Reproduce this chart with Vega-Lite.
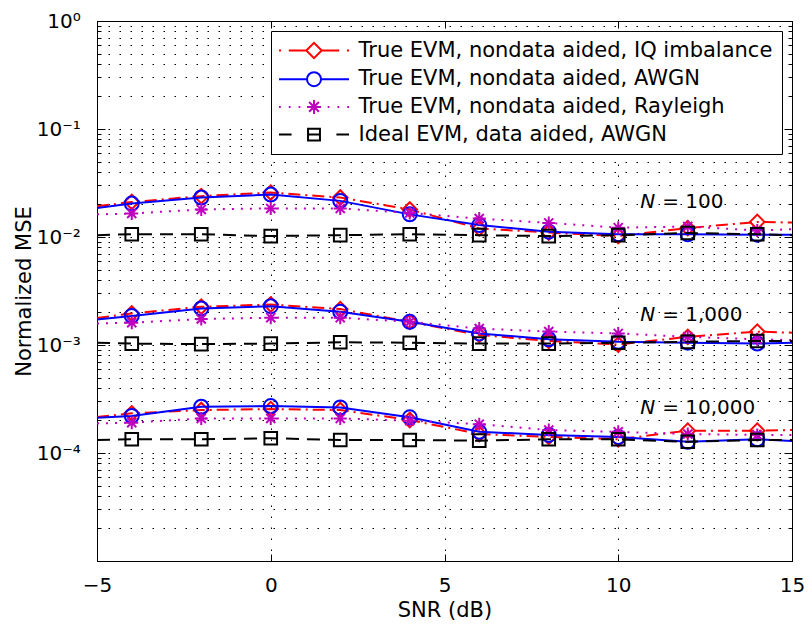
{
  "$schema": "https://vega.github.io/schema/vega-lite/v6.json",
  "width": 695,
  "height": 540,
  "autosize": {"type": "none"},
  "padding": {"left": 97, "top": 21, "right": 17, "bottom": 67},
  "background": "white",
  "config": {
    "font": "DejaVu Sans",
    "view": {"stroke": "#000", "strokeWidth": 1},
    "axis": {
      "domain": false, "tickColor": "#000", "tickWidth": 1,
      "labelColor": "#000", "titleColor": "#000",
      "labelFont": "DejaVu Sans", "titleFont": "DejaVu Sans",
      "labelFontSize": 20, "titleFontSize": 21, "titleFontWeight": "normal",
      "gridColor": "#000", "gridDash": [1.5, 9.5], "gridWidth": 1, "gridOpacity": 1,
      "labelFlush": false
    },
    "legend": {
      "orient": "top-right", "offset": 10, "padding": 9,
      "strokeColor": "#000", "strokeWidth": 1, "fillColor": "#fff", "cornerRadius": 0,
      "labelFont": "DejaVu Sans", "labelFontSize": 21, "labelColor": "#000", "labelLimit": 1000,
      "symbolSize": 196, "symbolStrokeWidth": 2, "rowPadding": 4.7,
      "symbolOffset": 23.5, "labelOffset": 34
    }
  },
  "datasets": {
    "evm": [
      {"s": "IQ", "N": 100, "x": -5, "y": 0.0193},
      {"s": "IQ", "N": 100, "x": -4, "y": 0.0211},
      {"s": "IQ", "N": 100, "x": -2, "y": 0.0239},
      {"s": "IQ", "N": 100, "x": 0, "y": 0.0258},
      {"s": "IQ", "N": 100, "x": 2, "y": 0.0232},
      {"s": "IQ", "N": 100, "x": 4, "y": 0.0180},
      {"s": "IQ", "N": 100, "x": 6, "y": 0.0120},
      {"s": "IQ", "N": 100, "x": 8, "y": 0.0110},
      {"s": "IQ", "N": 100, "x": 10, "y": 0.0102},
      {"s": "IQ", "N": 100, "x": 12, "y": 0.0121},
      {"s": "IQ", "N": 100, "x": 14, "y": 0.0138},
      {"s": "IQ", "N": 100, "x": 15, "y": 0.0136},
      {"s": "IQ", "N": 1000, "x": -5, "y": 0.00178},
      {"s": "IQ", "N": 1000, "x": -4, "y": 0.00196},
      {"s": "IQ", "N": 1000, "x": -2, "y": 0.00226},
      {"s": "IQ", "N": 1000, "x": 0, "y": 0.00237},
      {"s": "IQ", "N": 1000, "x": 2, "y": 0.00215},
      {"s": "IQ", "N": 1000, "x": 4, "y": 0.00164},
      {"s": "IQ", "N": 1000, "x": 6, "y": 0.00124},
      {"s": "IQ", "N": 1000, "x": 8, "y": 0.00109},
      {"s": "IQ", "N": 1000, "x": 10, "y": 0.00101},
      {"s": "IQ", "N": 1000, "x": 12, "y": 0.00119},
      {"s": "IQ", "N": 1000, "x": 14, "y": 0.00133},
      {"s": "IQ", "N": 1000, "x": 15, "y": 0.00130},
      {"s": "IQ", "N": 10000, "x": -5, "y": 0.000215},
      {"s": "IQ", "N": 10000, "x": -4, "y": 0.000233},
      {"s": "IQ", "N": 10000, "x": -2, "y": 0.000250},
      {"s": "IQ", "N": 10000, "x": 0, "y": 0.000255},
      {"s": "IQ", "N": 10000, "x": 2, "y": 0.000250},
      {"s": "IQ", "N": 10000, "x": 4, "y": 0.000202},
      {"s": "IQ", "N": 10000, "x": 6, "y": 0.000150},
      {"s": "IQ", "N": 10000, "x": 8, "y": 0.000141},
      {"s": "IQ", "N": 10000, "x": 10, "y": 0.000134},
      {"s": "IQ", "N": 10000, "x": 12, "y": 0.000161},
      {"s": "IQ", "N": 10000, "x": 14, "y": 0.000161},
      {"s": "IQ", "N": 10000, "x": 15, "y": 0.000163},
      {"s": "AWGN", "N": 100, "x": -5, "y": 0.0186},
      {"s": "AWGN", "N": 100, "x": -4, "y": 0.0204},
      {"s": "AWGN", "N": 100, "x": -2, "y": 0.0232},
      {"s": "AWGN", "N": 100, "x": 0, "y": 0.0247},
      {"s": "AWGN", "N": 100, "x": 2, "y": 0.0216},
      {"s": "AWGN", "N": 100, "x": 4, "y": 0.0162},
      {"s": "AWGN", "N": 100, "x": 6, "y": 0.0129},
      {"s": "AWGN", "N": 100, "x": 8, "y": 0.0112},
      {"s": "AWGN", "N": 100, "x": 10, "y": 0.0106},
      {"s": "AWGN", "N": 100, "x": 12, "y": 0.0106},
      {"s": "AWGN", "N": 100, "x": 14, "y": 0.0105},
      {"s": "AWGN", "N": 100, "x": 15, "y": 0.0105},
      {"s": "AWGN", "N": 1000, "x": -5, "y": 0.00172},
      {"s": "AWGN", "N": 1000, "x": -4, "y": 0.00186},
      {"s": "AWGN", "N": 1000, "x": -2, "y": 0.00218},
      {"s": "AWGN", "N": 1000, "x": 0, "y": 0.00229},
      {"s": "AWGN", "N": 1000, "x": 2, "y": 0.00203},
      {"s": "AWGN", "N": 1000, "x": 4, "y": 0.00164},
      {"s": "AWGN", "N": 1000, "x": 6, "y": 0.00128},
      {"s": "AWGN", "N": 1000, "x": 8, "y": 0.00113},
      {"s": "AWGN", "N": 1000, "x": 10, "y": 0.00107},
      {"s": "AWGN", "N": 1000, "x": 12, "y": 0.00105},
      {"s": "AWGN", "N": 1000, "x": 14, "y": 0.00103},
      {"s": "AWGN", "N": 1000, "x": 15, "y": 0.00105},
      {"s": "AWGN", "N": 10000, "x": -5, "y": 0.000212},
      {"s": "AWGN", "N": 10000, "x": -4, "y": 0.000220},
      {"s": "AWGN", "N": 10000, "x": -2, "y": 0.000268},
      {"s": "AWGN", "N": 10000, "x": 0, "y": 0.000272},
      {"s": "AWGN", "N": 10000, "x": 2, "y": 0.000264},
      {"s": "AWGN", "N": 10000, "x": 4, "y": 0.000214},
      {"s": "AWGN", "N": 10000, "x": 6, "y": 0.000157},
      {"s": "AWGN", "N": 10000, "x": 8, "y": 0.000147},
      {"s": "AWGN", "N": 10000, "x": 10, "y": 0.000141},
      {"s": "AWGN", "N": 10000, "x": 12, "y": 0.000127},
      {"s": "AWGN", "N": 10000, "x": 14, "y": 0.000134},
      {"s": "AWGN", "N": 10000, "x": 15, "y": 0.000129},
      {"s": "Ray", "N": 100, "x": -5, "y": 0.0162},
      {"s": "Ray", "N": 100, "x": -4, "y": 0.0165},
      {"s": "Ray", "N": 100, "x": -2, "y": 0.0180},
      {"s": "Ray", "N": 100, "x": 0, "y": 0.0184},
      {"s": "Ray", "N": 100, "x": 2, "y": 0.0184},
      {"s": "Ray", "N": 100, "x": 4, "y": 0.0167},
      {"s": "Ray", "N": 100, "x": 6, "y": 0.0148},
      {"s": "Ray", "N": 100, "x": 8, "y": 0.0135},
      {"s": "Ray", "N": 100, "x": 10, "y": 0.0122},
      {"s": "Ray", "N": 100, "x": 12, "y": 0.0125},
      {"s": "Ray", "N": 100, "x": 14, "y": 0.0115},
      {"s": "Ray", "N": 100, "x": 15, "y": 0.0118},
      {"s": "Ray", "N": 1000, "x": -5, "y": 0.00158},
      {"s": "Ray", "N": 1000, "x": -4, "y": 0.00161},
      {"s": "Ray", "N": 1000, "x": -2, "y": 0.00174},
      {"s": "Ray", "N": 1000, "x": 0, "y": 0.00179},
      {"s": "Ray", "N": 1000, "x": 2, "y": 0.00179},
      {"s": "Ray", "N": 1000, "x": 4, "y": 0.00164},
      {"s": "Ray", "N": 1000, "x": 6, "y": 0.00142},
      {"s": "Ray", "N": 1000, "x": 8, "y": 0.00133},
      {"s": "Ray", "N": 1000, "x": 10, "y": 0.00128},
      {"s": "Ray", "N": 1000, "x": 12, "y": 0.00119},
      {"s": "Ray", "N": 1000, "x": 14, "y": 0.00113},
      {"s": "Ray", "N": 1000, "x": 15, "y": 0.00111},
      {"s": "Ray", "N": 10000, "x": -5, "y": 0.000188},
      {"s": "Ray", "N": 10000, "x": -4, "y": 0.000191},
      {"s": "Ray", "N": 10000, "x": -2, "y": 0.000209},
      {"s": "Ray", "N": 10000, "x": 0, "y": 0.000209},
      {"s": "Ray", "N": 10000, "x": 2, "y": 0.000209},
      {"s": "Ray", "N": 10000, "x": 4, "y": 0.000199},
      {"s": "Ray", "N": 10000, "x": 6, "y": 0.000185},
      {"s": "Ray", "N": 10000, "x": 8, "y": 0.000163},
      {"s": "Ray", "N": 10000, "x": 10, "y": 0.000157},
      {"s": "Ray", "N": 10000, "x": 12, "y": 0.000150},
      {"s": "Ray", "N": 10000, "x": 14, "y": 0.000147},
      {"s": "Ray", "N": 10000, "x": 15, "y": 0.000147},
      {"s": "Ideal", "N": 100, "x": -5, "y": 0.0104},
      {"s": "Ideal", "N": 100, "x": -4, "y": 0.0106},
      {"s": "Ideal", "N": 100, "x": -2, "y": 0.0106},
      {"s": "Ideal", "N": 100, "x": 0, "y": 0.0102},
      {"s": "Ideal", "N": 100, "x": 2, "y": 0.0104},
      {"s": "Ideal", "N": 100, "x": 4, "y": 0.0106},
      {"s": "Ideal", "N": 100, "x": 6, "y": 0.0104},
      {"s": "Ideal", "N": 100, "x": 8, "y": 0.0102},
      {"s": "Ideal", "N": 100, "x": 10, "y": 0.0104},
      {"s": "Ideal", "N": 100, "x": 12, "y": 0.0109},
      {"s": "Ideal", "N": 100, "x": 14, "y": 0.0106},
      {"s": "Ideal", "N": 100, "x": 15, "y": 0.0104},
      {"s": "Ideal", "N": 1000, "x": -5, "y": 0.00105},
      {"s": "Ideal", "N": 1000, "x": -4, "y": 0.00103},
      {"s": "Ideal", "N": 1000, "x": -2, "y": 0.00102},
      {"s": "Ideal", "N": 1000, "x": 0, "y": 0.00103},
      {"s": "Ideal", "N": 1000, "x": 2, "y": 0.00106},
      {"s": "Ideal", "N": 1000, "x": 4, "y": 0.00105},
      {"s": "Ideal", "N": 1000, "x": 6, "y": 0.00103},
      {"s": "Ideal", "N": 1000, "x": 8, "y": 0.00103},
      {"s": "Ideal", "N": 1000, "x": 10, "y": 0.00105},
      {"s": "Ideal", "N": 1000, "x": 12, "y": 0.00107},
      {"s": "Ideal", "N": 1000, "x": 14, "y": 0.00109},
      {"s": "Ideal", "N": 1000, "x": 15, "y": 0.00109},
      {"s": "Ideal", "N": 10000, "x": -5, "y": 0.000132},
      {"s": "Ideal", "N": 10000, "x": -4, "y": 0.000134},
      {"s": "Ideal", "N": 10000, "x": -2, "y": 0.000134},
      {"s": "Ideal", "N": 10000, "x": 0, "y": 0.000137},
      {"s": "Ideal", "N": 10000, "x": 2, "y": 0.000132},
      {"s": "Ideal", "N": 10000, "x": 4, "y": 0.000132},
      {"s": "Ideal", "N": 10000, "x": 6, "y": 0.000130},
      {"s": "Ideal", "N": 10000, "x": 8, "y": 0.000134},
      {"s": "Ideal", "N": 10000, "x": 10, "y": 0.000134},
      {"s": "Ideal", "N": 10000, "x": 12, "y": 0.000127},
      {"s": "Ideal", "N": 10000, "x": 14, "y": 0.000132},
      {"s": "Ideal", "N": 10000, "x": 15, "y": 0.000132}
    ],
    "lab": [
      {"x": 10.63, "y": 0.0211, "t": "= 100"},
      {"x": 10.63, "y": 0.00189, "t": "= 1,000"},
      {"x": 10.63, "y": 0.000261, "t": "= 10,000"}
    ]
  },
  "resolve": {"axis": {"x": "independent", "y": "independent"}},
  "layer": [
    {
      "data": {"name": "evm"},
      "transform": [{"filter": "datum.s == 'IQ'"}],
      "mark": {"type": "line", "color": "#FF0000", "strokeWidth": 2, "strokeDash": [12, 5, 2, 5]},
      "encoding": {
        "x": {"field": "x", "type": "quantitative", "scale": {"domain": [-5, 15], "nice": false, "zero": false},
          "axis": {"orient": "bottom", "values": [-5, 0, 5, 10, 15], "title": "SNR (dB)", "tickSize": -7, "labelPadding": 21.5, "grid": true, "titlePadding": 4}},
        "y": {"field": "y", "type": "quantitative", "scale": {"type": "log", "domain": [0.00001, 1], "nice": false},
          "axis": {"orient": "left", "title": "Normalized MSE", "grid": true, "titlePadding": 2, "labelPadding": 24.7,
            "values": [0.00001, 0.00002, 0.00003, 0.00004, 0.00005, 0.00006, 0.00007, 0.00008, 0.00009, 0.0001, 0.0002, 0.0003, 0.0004, 0.0005, 0.0006, 0.0007, 0.0008, 0.0009, 0.001, 0.002, 0.003, 0.004, 0.005, 0.006, 0.007, 0.008, 0.009, 0.01, 0.02, 0.03, 0.04, 0.05, 0.06, 0.07, 0.08, 0.09, 0.1, 0.2, 0.3, 0.4, 0.5, 0.6, 0.7, 0.8, 0.9, 1],
            "tickSize": {"condition": {"test": "indexof([1, 0.1, 0.01, 0.001, 0.0001, 0.00001], datum.value) >= 0", "value": -8}, "value": -4},
            "labelExpr": "datum.value == 1 ? '10⁰' : datum.value == 0.1 ? '10⁻¹' : datum.value == 0.01 ? '10⁻²' : datum.value == 0.001 ? '10⁻³' : datum.value == 0.0001 ? '10⁻⁴' : ''"}},
        "detail": {"field": "N", "type": "nominal"}
      }
    },
    {
      "data": {"name": "evm"},
      "transform": [{"filter": "datum.s == 'IQ' && datum.x >= -4 && datum.x <= 14"}],
      "mark": {"type": "point", "shape": "diamond", "size": 210, "color": "#FF0000", "strokeWidth": 2, "filled": false, "opacity": 1},
      "encoding": {
        "x": {"field": "x", "type": "quantitative", "axis": null},
        "y": {"field": "y", "type": "quantitative", "axis": null}
      }
    },
    {
      "data": {"name": "evm"},
      "transform": [{"filter": "datum.s == 'AWGN'"}],
      "mark": {"type": "line", "color": "#0000FF", "strokeWidth": 2},
      "encoding": {
        "x": {"field": "x", "type": "quantitative", "axis": null},
        "y": {"field": "y", "type": "quantitative", "axis": null},
        "detail": {"field": "N", "type": "nominal"}
      }
    },
    {
      "data": {"name": "evm"},
      "transform": [{"filter": "datum.s == 'AWGN' && datum.x >= -4 && datum.x <= 14"}],
      "mark": {"type": "point", "shape": "circle", "size": 196, "color": "#0000FF", "strokeWidth": 2, "filled": false, "opacity": 1},
      "encoding": {
        "x": {"field": "x", "type": "quantitative", "axis": null},
        "y": {"field": "y", "type": "quantitative", "axis": null}
      }
    },
    {
      "data": {"name": "evm"},
      "transform": [{"filter": "datum.s == 'Ray'"}],
      "mark": {"type": "line", "color": "#BF00BF", "strokeWidth": 2, "strokeDash": [2, 7]},
      "encoding": {
        "x": {"field": "x", "type": "quantitative", "axis": null},
        "y": {"field": "y", "type": "quantitative", "axis": null},
        "detail": {"field": "N", "type": "nominal"}
      }
    },
    {
      "data": {"name": "evm"},
      "transform": [{"filter": "datum.s == 'Ray' && datum.x >= -4 && datum.x <= 14"}],
      "mark": {"type": "point", "shape": "M-1,0H1M0,-1V1M-0.7,-0.7L0.7,0.7M-0.7,0.7L0.7,-0.7", "size": 169, "color": "#BF00BF", "strokeWidth": 2, "filled": false, "opacity": 1},
      "encoding": {
        "x": {"field": "x", "type": "quantitative", "axis": null},
        "y": {"field": "y", "type": "quantitative", "axis": null}
      }
    },
    {
      "data": {"name": "evm"},
      "transform": [{"filter": "datum.s == 'Ideal'"}],
      "mark": {"type": "line", "color": "#000000", "strokeWidth": 2, "strokeDash": [13, 8]},
      "encoding": {
        "x": {"field": "x", "type": "quantitative", "axis": null},
        "y": {"field": "y", "type": "quantitative", "axis": null},
        "detail": {"field": "N", "type": "nominal"}
      }
    },
    {
      "data": {"name": "evm"},
      "transform": [{"filter": "datum.s == 'Ideal' && datum.x >= -4 && datum.x <= 14"}],
      "mark": {"type": "point", "shape": "square", "size": 160, "color": "#000000", "strokeWidth": 2, "filled": false, "opacity": 1},
      "encoding": {
        "x": {"field": "x", "type": "quantitative", "axis": null},
        "y": {"field": "y", "type": "quantitative", "axis": null}
      }
    },
    {
      "data": {"name": "lab"},
      "mark": {"type": "text", "align": "left", "baseline": "middle", "fontSize": 20, "fontStyle": "italic", "color": "#000", "font": "DejaVu Sans"},
      "encoding": {
        "x": {"field": "x", "type": "quantitative", "axis": null},
        "y": {"field": "y", "type": "quantitative", "axis": null},
        "text": {"value": "N"}
      }
    },
    {
      "data": {"name": "lab"},
      "mark": {"type": "text", "align": "left", "baseline": "middle", "fontSize": 20, "dx": 22, "color": "#000", "font": "DejaVu Sans"},
      "encoding": {
        "x": {"field": "x", "type": "quantitative", "axis": null},
        "y": {"field": "y", "type": "quantitative", "axis": null},
        "text": {"field": "t"}
      }
    },
    {
      "data": {"name": "evm"},
      "transform": [{"filter": "false"}],
      "mark": {"type": "point", "filled": false, "strokeWidth": 2, "opacity": 1},
      "encoding": {
        "x": {"field": "x", "type": "quantitative",
          "axis": {"orient": "top", "values": [-5, 0, 5, 10, 15], "labels": false, "title": null, "tickSize": -7, "grid": false}},
        "y": {"field": "y", "type": "quantitative",
          "axis": {"orient": "right", "labels": false, "title": null, "grid": false,
            "values": [0.00001, 0.00002, 0.00003, 0.00004, 0.00005, 0.00006, 0.00007, 0.00008, 0.00009, 0.0001, 0.0002, 0.0003, 0.0004, 0.0005, 0.0006, 0.0007, 0.0008, 0.0009, 0.001, 0.002, 0.003, 0.004, 0.005, 0.006, 0.007, 0.008, 0.009, 0.01, 0.02, 0.03, 0.04, 0.05, 0.06, 0.07, 0.08, 0.09, 0.1, 0.2, 0.3, 0.4, 0.5, 0.6, 0.7, 0.8, 0.9, 1],
            "tickSize": {"condition": {"test": "indexof([1, 0.1, 0.01, 0.001, 0.0001, 0.00001], datum.value) >= 0", "value": -8}, "value": -4}}},
        "color": {"field": "s", "type": "nominal",
          "scale": {"domain": ["IQ", "AWGN", "Ray", "Ideal"], "range": ["#FF0000", "#0000FF", "#BF00BF", "#000000"]},
          "legend": {"title": null, "labelExpr": "datum.label == 'IQ' ? 'True EVM, nondata aided, IQ imbalance' : datum.label == 'AWGN' ? 'True EVM, nondata aided, AWGN' : datum.label == 'Ray' ? 'True EVM, nondata aided, Rayleigh' : 'Ideal EVM, data aided, AWGN'"}},
        "shape": {"field": "s", "type": "nominal",
          "scale": {"domain": ["IQ", "AWGN", "Ray", "Ideal"], "range": [
            "M-5,0H-4.7M-3.6,0H-1.1M-1.1,0L0,-1.1L1.1,0L0,1.1ZM1.1,0H3.6M4.7,0H5",
            "M-5,0H-1M1,0A1,1,0,1,1,-1,0A1,1,0,1,1,1,0M1,0H5",
            "M-5,0H-4.75M-3.6,0H-3.35M-2.2,0H-1.95M-1,0H1M0,-1V1M-0.7,-0.7L0.7,0.7M-0.7,0.7L0.7,-0.7M1.95,0H2.2M3.35,0H3.6M4.75,0H5",
            "M-5,0H-3.2M-0.85,-0.85H0.85V0.85H-0.85ZM-0.85,0H0.85M3.2,0H5"]},
          "legend": {"title": null, "labelExpr": "datum.label == 'IQ' ? 'True EVM, nondata aided, IQ imbalance' : datum.label == 'AWGN' ? 'True EVM, nondata aided, AWGN' : datum.label == 'Ray' ? 'True EVM, nondata aided, Rayleigh' : 'Ideal EVM, data aided, AWGN'"}}
      }
    }
  ]
}
